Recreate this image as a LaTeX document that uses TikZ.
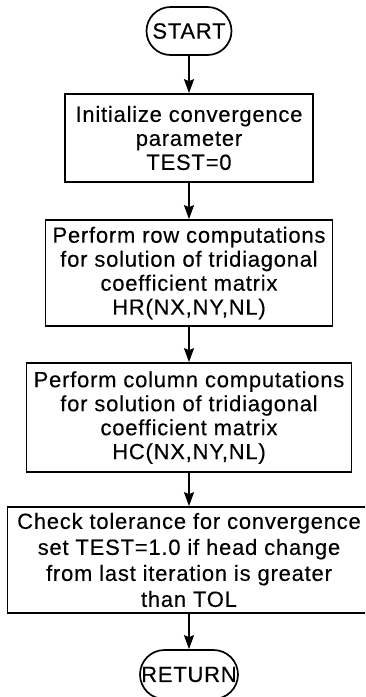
\documentclass[tikz,border=0pt]{standalone}
\usepackage{fontspec}
\setmainfont{Liberation Sans}
\newfontfamily\flowfam{Liberation Sans}[LetterSpace=3.5, FakeBold=0.3]
\usetikzlibrary{arrows.meta,shapes.misc}

\newcommand{\flowfont}[1]{\flowfam\fontsize{22}{#1}\selectfont}

\tikzset{
  flowtext/.style={align=center, inner sep=0pt, text=black, font=\flowfont{24}},
  procbox/.style={flowtext, draw, line width=1.7pt, rectangle},
  terminal/.style={flowtext, draw, line width=1.7pt, rounded rectangle,
    rounded rectangle arc length=180},
  flowarrow/.style={line width=1.7pt, -{Stealth[length=14pt,width=10pt,inset=2pt]}},
}

\begin{document}
\begin{tikzpicture}[x=1pt,y=-1pt]
  \useasboundingbox (0,0) rectangle (365,697);
  \clip (0,0) rectangle (365,697);

  \node[terminal, minimum width=85pt, minimum height=48pt] (start) at (189,31) {START};
  \node[procbox, minimum width=248pt, minimum height=88pt] (init) at (189,138)
    {Initialize convergence\\parameter\\TEST=0};
  \node[procbox, minimum width=287pt, minimum height=106pt] (row) at (189,273)
    {Perform row computations\\for solution of tridiagonal\\coefficient matrix\\HR(NX,NY,NL)};
  \node[procbox, minimum width=325pt, minimum height=109pt] (col) at (189,417.5)
    {Perform column computations\\for solution of tridiagonal\\coefficient matrix\\HC(NX,NY,NL)};
  \node[procbox, minimum width=363pt, minimum height=106pt, font=\flowfont{26}] (check) at (189,560)
    {Check tolerance for convergence\\set TEST=1.0 if head change\\from last iteration is greater\\than TOL};
  \node[terminal, minimum width=86pt, minimum height=49pt] (ret) at (189,674.5) {RETURN};

  \draw[flowarrow] (start) -- (init);
  \draw[flowarrow] (init) -- (row);
  \draw[flowarrow] (row) -- (col);
  \draw[flowarrow] (col) -- (check);
  \draw[flowarrow] (check) -- (ret);
\end{tikzpicture}
\end{document}
